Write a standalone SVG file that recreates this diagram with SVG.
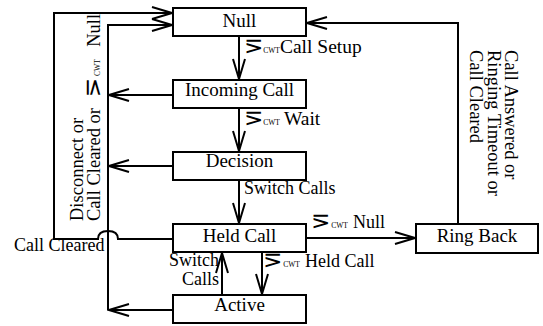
<svg xmlns="http://www.w3.org/2000/svg" width="543" height="326" viewBox="0 0 543 326">
<defs>
<style>
.box{fill:#fff;stroke:#000;stroke-width:2}
.ln{fill:none;stroke:#000;stroke-width:2}
.t{font-family:"Liberation Serif","Times New Roman","DejaVu Serif",serif;font-size:19px;fill:#000}
.e{font-family:"Liberation Serif","Times New Roman","DejaVu Serif",serif;font-size:18px;fill:#000}
.r{font-family:"Liberation Serif","Times New Roman","DejaVu Serif",serif;font-size:18.5px;fill:#000}
.s{font-size:7.5px}
.b{font-size:19.5px}
.m{font-family:"DejaVu Sans","Noto Sans",sans-serif;font-size:23px}
</style>
<marker id="a" markerUnits="userSpaceOnUse" markerWidth="24" markerHeight="16" viewBox="-22 -8 24 16" refX="0" refY="0" orient="auto">
<path d="M-20,-6 L0,0 L-20,6" fill="none" stroke="#000" stroke-width="2"/>
</marker>
</defs>
<rect width="543" height="326" fill="#fff"/>
<g id="connectors">
<path class="ln" d="M239,36 V79" marker-end="url(#a)"/>
<path class="ln" d="M239,108 V151" marker-end="url(#a)"/>
<path class="ln" d="M239,180 V223" marker-end="url(#a)"/>
<path class="ln" d="M262,252 V294" marker-end="url(#a)"/>
<path class="ln" d="M222,294 V253" marker-end="url(#a)"/>
<path class="ln" d="M306,238 H415" marker-end="url(#a)"/>
<path class="ln" d="M458,224 V23 H307" marker-end="url(#a)"/>
<path class="ln" d="M173,239 H118 C118,233 114,231 108,231 C102,231 98,233 98,239 H54 V13 H172" marker-end="url(#a)"/>
<path class="ln" d="M108,310 V25 H172" marker-end="url(#a)"/>
<path class="ln" d="M173,95 H109" marker-end="url(#a)"/>
<path class="ln" d="M173,166 H109" marker-end="url(#a)"/>
<path class="ln" d="M173,310 H109" marker-end="url(#a)"/>
</g>
<g id="null"><rect class="box" x="173" y="8" width="133" height="28"/><text class="t" x="239.5" y="27" text-anchor="middle">Null</text></g>
<g id="incoming-call"><rect class="box" x="173" y="80" width="133" height="28"/><text class="t" x="239.5" y="96" text-anchor="middle">Incoming Call</text></g>
<g id="decision"><rect class="box" x="173" y="152" width="133" height="28"/><text class="t" x="239.5" y="167" text-anchor="middle">Decision</text></g>
<g id="held-call"><rect class="box" x="173" y="224" width="133" height="28"/><text class="t" x="239.5" y="242" text-anchor="middle">Held Call</text></g>
<g id="active"><rect class="box" x="173" y="295" width="133" height="28"/><text class="t" x="239.5" y="311" text-anchor="middle">Active</text></g>
<g id="ring-back"><rect class="box" x="416" y="224" width="122" height="29"/><text class="t" x="477" y="242" text-anchor="middle">Ring Back</text></g>
<g id="labels">
<text class="e" x="244" y="53"><tspan class="m">⋝</tspan><tspan class="s">CWT</tspan><tspan class="b">Call Setup</tspan></text>
<text class="e" x="244" y="125"><tspan class="m">⋝</tspan><tspan class="s">CWT</tspan><tspan class="b" dx="4">Wait</tspan></text>
<text class="e" x="244" y="194">Switch Calls</text>
<text class="e" x="311" y="228"><tspan class="m">⋝</tspan><tspan class="s" dx="1">CWT</tspan><tspan dx="5">Null</tspan></text>
<text class="e" x="263" y="267"><tspan class="m">⋝</tspan><tspan class="s" dx="1">CWT</tspan><tspan dx="5">Held Call</tspan></text>
<text class="e" text-anchor="end"><tspan x="219" y="266">Switch</tspan><tspan x="219" y="285">Calls</tspan></text>
<text class="e" x="14" y="251">Call Cleared</text>
<text class="r" transform="translate(83,221) rotate(-90)"><tspan x="0" y="0">Disconnect or</tspan><tspan x="0" y="17">Call Cleared or </tspan><tspan class="m" dx="6">⋝</tspan><tspan class="s" dx="2">CWT</tspan><tspan dx="8"> Null</tspan></text>
<text class="r" transform="translate(505,50) rotate(90)"><tspan x="0" y="0">Call Answered or</tspan><tspan x="0" y="17.5">Ringing Timeout or</tspan><tspan x="0" y="35">Call Cleared</tspan></text>
</g>
</svg>
